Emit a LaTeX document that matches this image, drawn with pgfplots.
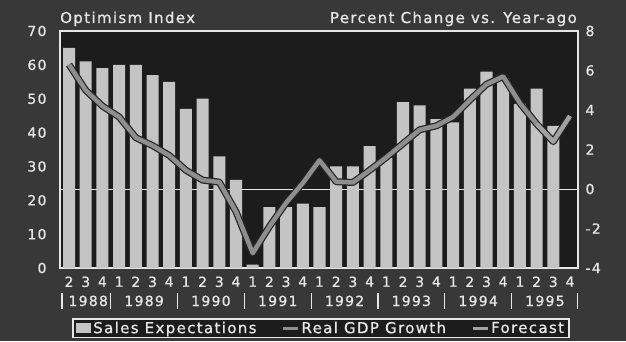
\documentclass[border=0pt]{standalone}
\usepackage{fontspec}
\setmainfont{DejaVu Sans}[LetterSpace=9, FakeBold=0.8]
\usepackage{pgfplots}
\pgfplotsset{compat=1.18}
\definecolor{outerbg}{HTML}{383838}
\definecolor{plotbg}{HTML}{1C1C1C}
\definecolor{barc}{HTML}{C4C4C4}
\definecolor{txt}{HTML}{E6E6E6}
\definecolor{linec}{HTML}{8E8E8E}
\definecolor{linee}{HTML}{262626}
\definecolor{fcst}{HTML}{A2A2A2}
\begin{document}
\begin{tikzpicture}[x=1pt,y=1pt]
\fill[outerbg] (0,0) rectangle (626,341);
\node[anchor=base west, font=\fontsize{15}{18}\selectfont, text=txt, inner sep=0pt] at (60,318) {Optimism Index};
\node[anchor=base east, font=\fontsize{15}{18}\selectfont, text=txt, inner sep=0pt] at (577,318) {Percent Change vs. Year-ago};
\begin{axis}[
  at={(60pt,73pt)}, anchor=south west,
  width=518pt, height=237pt, scale only axis,
  xmin=-0.54, xmax=30.48, ymin=0, ymax=70,
  axis background/.style={fill=plotbg},
  axis line style={draw=txt, line width=1.5pt},
  ytick={0,10,...,70},
  xtick={0,...,30},
  xticklabels={2,3,4,1,2,3,4,1,2,3,4,1,2,3,4,1,2,3,4,1,2,3,4,1,2,3,4,1,2,3,4},
  major tick length=0pt,
  tick label style={font=\fontsize{14}{16}\selectfont, text=txt},
  /pgf/number format/assume math mode=true,
  yticklabel style={xshift=-10pt},
  xticklabel style={yshift=-5pt},
  clip=false,
]
\addplot[draw=txt, line width=0.8pt, forget plot] coordinates {(-0.54,23.333) (30.48,23.333)};
\addplot[ybar, bar width=0.72, fill=barc, draw=none] coordinates {
(0,65) (1,61) (2,59) (3,60) (4,60) (5,57) (6,55) (7,47) (8,50) (9,33)
(10,26) (11,1) (12,18) (13,18) (14,19) (15,18) (16,30) (17,30) (18,36) (19,32.5)
(20,49) (21,48) (22,44) (23,43) (24,53) (25,58) (26,56) (27,48.5) (28,53) (29,42)};
\foreach \yr/\xc in {1988/1.15,1989/4.5,1990/8.5,1991/12.5,1992/16.5,1993/20.5,1994/24.5,1995/28.5}{
  \edef\tmp{\noexpand\node[anchor=base, font=\noexpand\fontsize{14}{16}\noexpand\selectfont, text=txt, yshift=-38pt] at (axis cs:\xc,0) {\yr};}\tmp
}
\foreach \xs in {-0.42,2.5,6.5,10.5,14.5,18.5,22.5,26.5,30.45}{
  \edef\tmp{\noexpand\draw[txt, line width=1.2pt] ([yshift=-25pt]axis cs:\xs,0) -- ([yshift=-41pt]axis cs:\xs,0);}\tmp
}
\end{axis}
\begin{axis}[
  at={(60pt,73pt)}, anchor=south west,
  width=518pt, height=237pt, scale only axis,
  xmin=-0.54, xmax=30.48, ymin=-4, ymax=8,
  axis y line*=right, axis x line=none,
  axis line style={draw=txt, line width=1.5pt},
  ytick={-4,-2,...,8},
  major tick length=0pt,
  tick label style={font=\fontsize{14}{16}\selectfont, text=txt},
  /pgf/number format/assume math mode=true,
  yticklabel style={xshift=4pt},
  legend columns=3,
  legend style={at={(0.0232,-0.211)}, anchor=north west, draw=txt, line width=1.5pt,
    fill=plotbg, text=txt, font=\fontsize{15}{17}\selectfont,
    inner xsep=3pt, inner ysep=1pt,
    /tikz/every even column/.append style={column sep=23pt}},
  clip=false,
]
\addlegendimage{legend image code/.code={\fill[barc] (0pt,-4pt) rectangle (14pt,4pt);}}
\addlegendentry{Sales Expectations}
\addplot[linee, line width=7pt, line join=round, forget plot] coordinates {
(0,6.3) (1,5.0) (2,4.2) (3,3.65) (4,2.6) (5,2.2) (6,1.7) (7,0.95) (8,0.45) (9,0.35)
(10,-1.15) (11,-3.25) (12,-1.9) (13,-0.7) (14,0.3) (15,1.45) (16,0.37) (17,0.33) (18,0.95) (19,1.6)
(20,2.3) (21,3.0) (22,3.2) (23,3.65) (24,4.5) (25,5.3) (26,5.7) (27,4.35) (28,3.3) (29,2.4) (30,3.7)};
\addplot[linec, line width=4.5pt, line join=round,
  legend image code/.code={\draw[linec, line width=3pt] (0pt,0pt) -- (15pt,0pt);}] coordinates {
(0,6.3) (1,5.0) (2,4.2) (3,3.65) (4,2.6) (5,2.2) (6,1.7) (7,0.95) (8,0.45) (9,0.35)
(10,-1.15) (11,-3.25) (12,-1.9) (13,-0.7) (14,0.3) (15,1.45) (16,0.37) (17,0.33) (18,0.95) (19,1.6)
(20,2.3) (21,3.0) (22,3.2) (23,3.65) (24,4.5) (25,5.3) (26,5.7) (27,4.35) (28,3.3)};
\addlegendentry{Real GDP Growth}
\addplot[fcst, line width=4.5pt, line join=round,
  legend image code/.code={\draw[fcst, line width=3pt] (0pt,0pt) -- (15pt,0pt);}] coordinates {
(28,3.3) (29,2.4) (30,3.7)};
\addlegendentry{Forecast}
\end{axis}
\end{tikzpicture}
\end{document}
